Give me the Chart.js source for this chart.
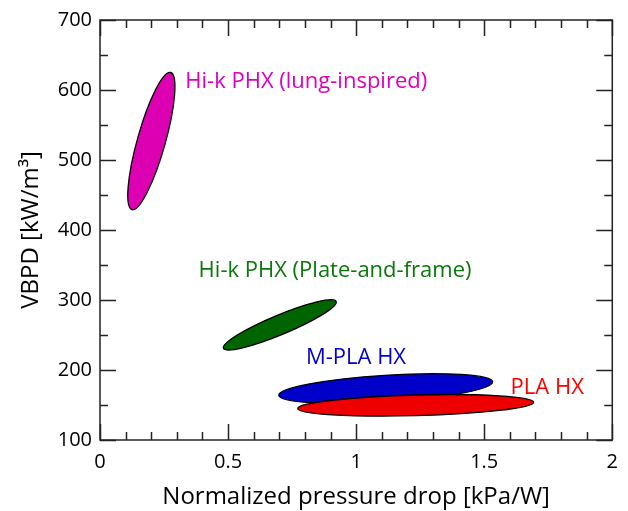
<!DOCTYPE html>
<html>
<head>
<meta charset="utf-8">
<script src="https://cdn.jsdelivr.net/npm/chart.js@4.4.1/dist/chart.umd.min.js"></script>
<style>
  html, body { margin: 0; padding: 0; background: #fff; }
  #wrap { width: 628px; height: 511px; }
</style>
</head>
<body>
<div id="wrap"><canvas id="hxChart" width="628" height="511"></canvas></div>
<script>
// heat exchanger regions: tips of each ellipse (low end / high end) + half thickness (kW/m3)
const regionNames = ['Hi-k PHX (lung-inspired)', 'Hi-k PHX (Plate-and-frame)', 'M-PLA HX', 'PLA HX'];
const lowTip = [[0.125, 429], [0.482, 231], [0.698, 164], [0.772, 145]];
const highTip = [[0.276, 625], [0.922, 298], [1.533, 183], [1.693, 154]];
const halfWidth = [20, 14, 19, 14.8];
const labelAt = [[0.333, 603], [0.385, 333], [0.804, 208], [1.603, 166]];

const xTicks = [0, 0.5, 1, 1.5, 2];
const yTicks = [100, 200, 300, 400, 500, 600, 700];

const fillColors = ['#dd00b3', '#006400', '#0000c8', '#ee0000'];
const textColors = ['#e000b8', '#0a780a', '#0000d0', '#ff0000'];

const ellipsePlugin = {
    id: 'ellipses',
    beforeDatasetsDraw(chart) {
        const ctx = chart.ctx;
        const y = chart.scales.y;
        chart.data.datasets.forEach((ds, i) => {
            const meta = chart.getDatasetMeta(i);
            const p0 = meta.data[0], p1 = meta.data[1];
            const cx = (p0.x + p1.x) / 2, cy = (p0.y + p1.y) / 2;
            const a = Math.hypot(p1.x - p0.x, p1.y - p0.y) / 2;
            const b = Math.abs(y.getPixelForValue(0) - y.getPixelForValue(ds.halfWidth));
            const ang = Math.atan2(p1.y - p0.y, p1.x - p0.x);
            ctx.save();
            ctx.beginPath();
            ctx.ellipse(cx, cy, a, b, ang, 0, Math.PI * 2);
            ctx.fillStyle = ds.backgroundColor;
            ctx.fill();
            ctx.lineWidth = 1.3;
            ctx.strokeStyle = '#000';
            ctx.stroke();
            ctx.restore();
        });
    },
    afterDatasetsDraw(chart) {
        const ctx = chart.ctx;
        const {x, y} = chart.scales;
        ctx.save();
        ctx.font = '22px "Open Sans"';
        ctx.textBaseline = 'alphabetic';
        ctx.textAlign = 'left';
        regionNames.forEach((name, i) => {
            ctx.fillStyle = textColors[i];
            ctx.fillText(name, x.getPixelForValue(labelAt[i][0]), y.getPixelForValue(labelAt[i][1]));
        });
        ctx.restore();
    },
    afterDraw(chart) {
        // frame and inward ticks on all four sides
        const ctx = chart.ctx;
        const {left, right, top, bottom} = chart.chartArea;
        const {x, y} = chart.scales;
        ctx.save();
        ctx.strokeStyle = '#222';
        ctx.lineWidth = 1.5;
        ctx.strokeRect(left, top, right - left, bottom - top);
        ctx.beginPath();
        for (let i = 0; i < xTicks.length; i++) {
            const px = Math.round(x.getPixelForValue(xTicks[i])) + 0.5;
            ctx.moveTo(px, bottom); ctx.lineTo(px, bottom - 16);
            ctx.moveTo(px, top); ctx.lineTo(px, top + 16);
            if (i < xTicks.length - 1) {
                for (let k = 1; k < 5; k++) {
                    const v = xTicks[i] + (xTicks[i + 1] - xTicks[i]) * k / 5;
                    const mx = Math.round(x.getPixelForValue(v)) + 0.5;
                    ctx.moveTo(mx, bottom); ctx.lineTo(mx, bottom - 8);
                    ctx.moveTo(mx, top); ctx.lineTo(mx, top + 8);
                }
            }
        }
        for (let i = 0; i < yTicks.length; i++) {
            const py = Math.round(y.getPixelForValue(yTicks[i])) + 0.5;
            ctx.moveTo(left, py); ctx.lineTo(left + 16, py);
            ctx.moveTo(right, py); ctx.lineTo(right - 16, py);
            if (i < yTicks.length - 1) {
                const my = Math.round(y.getPixelForValue((yTicks[i] + yTicks[i + 1]) / 2)) + 0.5;
                ctx.moveTo(left, my); ctx.lineTo(left + 8, my);
                ctx.moveTo(right, my); ctx.lineTo(right - 8, my);
            }
        }
        ctx.stroke();
        ctx.restore();
    }
};

const datasets = regionNames.map((name, i) => ({
    label: name,
    data: [{x: lowTip[i][0], y: lowTip[i][1]}, {x: highTip[i][0], y: highTip[i][1]}],
    backgroundColor: fillColors[i],
    halfWidth: halfWidth[i],
    pointRadius: 0,
    showLine: false
}));

new Chart(document.getElementById('hxChart'), {
    type: 'scatter',
    data: { datasets: datasets },
    options: {
        responsive: false,
        animation: false,
        layout: { padding: { top: 13, right: 11, left: 0, bottom: 0 } },
        plugins: { legend: { display: false }, tooltip: { enabled: false } },
        scales: {
            x: {
                type: 'linear',
                min: 0, max: 2,
                afterBuildTicks: (s) => { s.ticks = xTicks.map(v => ({ value: v })); },
                afterFit: (s) => { s.height = 71; },
                grid: { display: false, drawTicks: false },
                border: { display: false },
                ticks: { color: '#000', padding: 10, font: { family: 'Open Sans', size: 20 }, callback: (v) => String(v) },
                title: {
                    display: true,
                    text: 'Normalized pressure drop [kPa/W]',
                    color: '#000',
                    padding: { top: 0, bottom: 2 },
                    font: { family: 'Open Sans', size: 24, lineHeight: 1 }
                }
            },
            y: {
                type: 'linear',
                min: 100, max: 700,
                afterBuildTicks: (s) => { s.ticks = yTicks.map(v => ({ value: v })); },
                afterFit: (s) => { s.width = 100; },
                grid: { display: false, drawTicks: false },
                border: { display: false },
                ticks: { color: '#000', padding: 8, font: { family: 'Open Sans', size: 20 }, callback: (v) => String(v) },
                title: {
                    display: true,
                    text: 'VBPD [kW/m³]',
                    color: '#000',
                    padding: { top: 19, bottom: 0 },
                    font: { family: 'Open Sans', size: 24, lineHeight: 1 }
                }
            }
        }
    },
    plugins: [ellipsePlugin]
});
</script>
</body>
</html>
